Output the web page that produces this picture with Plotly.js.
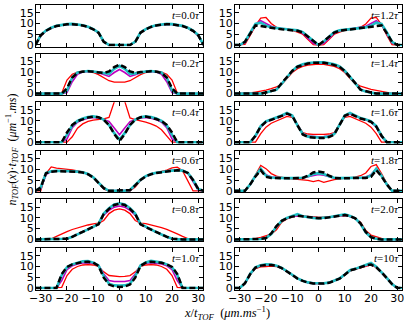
<!DOCTYPE html>
<html>
<head>
<meta charset="utf-8">
<script src="https://cdn.plot.ly/plotly-3.0.1.min.js"></script>
<style>
  html, body { margin: 0; padding: 0; background: #fff; }
  #plot { width: 407px; height: 322px; }
</style>
</head>
<body>
<div id="plot"></div>
<script>
// x / t_TOF grid (um/ms)
const X = [-32,-30,-28,-26,-24,-22,-20,-18,-16,-14,-12,-10,-8,-6,-4,-2,0,2,4,6,8,10,12,14,16,18,20,22,24,26,28,30,32];

const TIMES = ['0.0','0.2','0.4','0.6','0.8','1.0','1.2','1.4','1.6','1.8','2.0','10'];

// t = 0.0 tau
const t00Red   = [0,4.2,6.5,7.8,8.8,9.3,9.6,9.8,9.5,9.1,8.4,7.2,5.5,1.3,0,0,0,0,0,1.3,5.5,7.2,8.4,9.1,9.5,9.8,9.6,9.3,8.8,7.8,6.5,4.2,0];
const t00Mag   = [0,4.3,6.5,7.9,8.8,9.3,9.6,9.7,9.5,9.1,8.4,7.3,5.6,1.4,0,0,0,0,0,1.4,5.6,7.3,8.4,9.1,9.5,9.7,9.6,9.3,8.8,7.9,6.5,4.3,0];
const t00Cyan  = [0,4.6,6.7,8.0,8.9,9.4,9.7,9.8,9.6,9.2,8.5,7.4,5.8,1.6,0,0,0,0,0,1.6,5.8,7.4,8.5,9.2,9.6,9.8,9.7,9.4,8.9,8.0,6.7,4.6,0];
const t00Black = [0,4.5,6.6,7.9,8.8,9.3,9.6,9.7,9.5,9.1,8.4,7.3,5.7,1.5,0,0,0,0,0,1.5,5.7,7.3,8.4,9.1,9.5,9.7,9.6,9.3,8.8,7.9,6.6,4.5,0];

// t = 0.2 tau
const t02Red   = [0,0,0,0,0,0.3,6.3,9,10,10.5,10.4,9.8,8.8,7.5,6,5.3,5.2,5.3,6,7.5,8.8,9.8,10.4,10.5,10,9,6.3,0.3,0,0,0,0,0];
const t02Mag   = [0,0,0,0,0,0,0.5,5.5,9,10,10.3,10.2,9.7,8.8,8,9.8,11.2,9.8,8,8.8,9.7,10.2,10.3,10,9,5.5,0.5,0,0,0,0,0,0];
const t02Cyan  = [0,0,0,0,0,0,1.5,7.5,9.8,10.3,10.5,10.3,10,9.4,9.2,11.5,12.9,11.5,9.2,9.4,10,10.3,10.5,10.3,9.8,7.5,1.5,0,0,0,0,0,0];
const t02Black = [0,0,0,0,0,0,2.5,7.5,9.6,10.2,10.4,10.2,10,9.6,10.3,12.3,13.5,12.3,10.3,9.6,10,10.2,10.4,10.2,9.6,7.5,2.5,0,0,0,0,0,0];

// t = 0.4 tau
const t04Red   = [0,0,0,0,0,0,0,2.5,6.5,8.5,9.7,10.3,10.6,10.8,11.5,19,26,19,11.3,10.5,10,9.3,8.5,7.5,5.8,2.8,0,0,0,0,0,0,0];
const t04Mag   = [0,0,0,0,0,0,1.5,6.8,9.3,10.5,11.2,11.5,11.3,10.6,9.6,6.6,3.5,6.6,9.6,10.6,11.3,11.5,11.2,10.5,9.3,6.8,1.5,0,0,0,0,0,0];
const t04Cyan  = [0,0,0,0,0,0,3.5,7.8,9.9,11,11.7,12,11.6,10.5,8,4.2,1.2,4.2,8,10.5,11.6,12,11.7,11,9.9,7.8,3.5,0,0,0,0,0,0];
const t04Black = [0,0,0,0,0,0,4.5,8,9.8,10.8,11.5,11.9,11.6,10.5,8,3.8,0.6,3.8,8,10.5,11.6,11.9,11.5,10.8,9.8,8,4.5,0,0,0,0,0,0];

// t = 0.6 tau
const t06Red   = [0,0,8,11.1,10.5,10.3,10.1,9.7,9.3,8.8,7.8,6.3,3.8,0.8,0,0,0,0,0,1.8,4.8,6.8,7.8,8.5,9,9.6,10.7,11,9.3,4.5,0,0,0];
const t06Mag   = [0,0.8,7.5,8.9,9.2,9.2,9.1,9.1,8.9,8.5,7.7,6.2,3.6,1.1,0,0,0,0,0.2,2.4,5,6.7,7.7,8.3,8.8,9.1,9.5,9.7,9.5,8.2,4.2,0.3,0];
const t06Cyan  = [0,1.5,8.3,9.1,9.3,9.3,9.2,9.1,8.9,8.6,7.8,6.3,3.8,1.3,0,0,0,0,0.4,2.6,5.1,6.8,7.8,8.4,8.8,9.1,9.4,9.6,9.4,8.4,5.2,0.8,0];
const t06Black = [0,1.5,8.2,8.9,9.1,9.1,9.1,9,8.8,8.5,7.7,6.2,3.6,1.2,0,0,0,0,0.3,2.5,5,6.7,7.7,8.3,8.7,9,9.3,9.5,9.3,8.3,5,0.8,0];

// t = 0.8 tau
const t08Red   = [0,0,0,0.3,1.4,2.6,3.6,4.6,5.4,6.1,6.7,7.2,7.5,8.8,12,13.6,14.2,13.6,12,8.8,7.6,7.3,6.8,6.2,5.5,4.7,3.8,2.6,1.4,0.4,0,0,0];
const t08Mag   = [0,0,0,0,0,0,0.3,1.2,2.3,3.4,4.5,5.7,7,11.3,13.5,15,15.5,15,13.5,11.3,7,5.7,4.5,3.4,2.3,1.2,0.3,0,0,0,0,0,0];
const t08Cyan  = [0,0,0,0,0,0,0.3,1.2,2.3,3.4,4.6,5.8,7.2,12,14.5,16.3,16.8,16.3,14.5,12,7.2,5.8,4.6,3.4,2.3,1.2,0.3,0,0,0,0,0,0];
const t08Black = [0,0,0,0,0,0,0.3,1.2,2.3,3.4,4.5,5.7,7,11.8,14.2,16,16.6,16,14.2,11.8,7,5.7,4.5,3.4,2.3,1.2,0.3,0,0,0,0,0,0];

// t = 1.0 tau
const t10Red   = [0,0,0,0,0,0.3,5.8,8.7,10,10.7,10.9,10.7,10,7.5,5.8,5.4,5.3,5.4,5.8,7.5,10,10.7,10.9,10.7,10,8.7,5.8,0.3,0,0,0,0,0];
const t10Mag   = [0,0,0,0,0,3.5,8.5,10.3,11.2,11.6,11.8,11.5,10.5,6.5,3.5,3,2.9,3,3.5,6.5,10.5,11.5,11.8,11.6,11.2,10.3,8.5,3.5,0,0,0,0,0];
const t10Cyan  = [0,0,0,0,0,6,9.6,11,11.8,12.4,12.5,11.8,10.5,5.5,2,1.2,1.1,1.2,2,5.5,10.5,11.9,12.6,12.3,11.8,11,9.6,6,0,0,0,0,0];
const t10Black = [0,0,0,0,0,6.5,9.8,11,11.7,12.1,12.2,11.8,10.3,4.8,1.6,0.7,0.5,0.7,1.6,4.8,10.3,11.8,12.2,12.1,11.7,11,9.8,6.5,0,0,0,0,0];

// t = 1.2 tau
const t12Red   = [0,0,0.3,4.5,9,12.5,12.8,10,8.2,7.6,7.2,6.8,6,5,2.5,0.2,0,0.2,2.5,5,6,6.8,7.2,7.6,8.2,9.8,12.5,12.8,9.5,4.5,0.2,0,0];
const t12Mag   = [0,0,1,5.5,9.5,11.3,10,8.7,8,7.6,7.3,7,6.6,5.5,3,0.8,0,0.8,3,5.5,6.6,7,7.3,7.6,8,8.7,10,11.3,9.5,5.5,1,0,0];
const t12Cyan  = [0,0,1.5,6,9.8,10.4,9,8.2,7.8,7.5,7.3,7.1,6.8,6,4,1.6,0,1.6,4,6,6.8,7.1,7.3,7.5,7.8,8.2,9,10.4,9.8,6,1.5,0,0];
const t12Black = [0,0,1.5,5.5,9.1,8.8,8.3,7.9,7.6,7.3,7.1,6.9,6.6,5.8,4,1.8,0,1.8,4,5.8,6.6,6.9,7.1,7.3,7.6,7.9,8.3,8.8,9.1,5.5,1.5,0,0];

// t = 1.4 tau
const t14Red   = [0,0,0.1,0.3,0.7,1.1,1.6,2.3,3.1,4.3,7,9.8,11.6,12.7,13.3,13.6,13.7,13.6,13.3,12.7,11.6,9.8,7,4.6,3.5,2.6,2,1.5,1,0.5,0.1,0,0];
const t14Mag   = [0,0,0,0,0,0,0.5,1.1,2,4.8,7.7,10.4,12.4,13.4,14,14.3,14.4,14.3,14,13.4,12.4,10.4,7.7,4.8,2,1.1,0.5,0,0,0,0,0,0];
const t14Cyan  = [0,0,0,0,0,0,0.5,1,1.8,4.6,7.8,10.6,12.6,13.6,14.2,14.5,14.6,14.5,14.2,13.6,12.6,10.6,7.8,4.6,1.8,1,0.5,0,0,0,0,0,0];
const t14Black = [0,0,0,0,0,0,0.5,1,1.8,4.9,7.8,10.5,12.5,13.4,14,14.3,14.4,14.3,14,13.4,12.5,10.5,7.8,4.9,1.8,1,0.5,0,0,0,0,0,0];

// t = 1.6 tau
const t16Red   = [0,0,0,0,0,4,7,8.8,9.8,11,12,11.5,8.3,4.5,3.8,3.6,3.5,3.6,3.8,4.5,8.3,11.5,12,11,9.8,8.8,7,4,0,0,0,0,0];
const t16Mag   = [0,0,0,0,2.5,7,9.4,10.3,11,12.1,13.1,12.2,8,4,2.9,2.6,2.5,2.6,2.9,4,8,12.2,13.1,12.1,11,10.3,9.4,7,2.5,0,0,0,0];
const t16Cyan  = [0,0,0,0,3,7.5,9.7,10.6,11.2,12.4,13.6,12.4,7.8,3.8,2.6,2.3,2.2,2.3,2.6,3.8,7.8,12.4,13.6,12.4,11.2,10.6,9.7,7.5,3,0,0,0,0];
const t16Black = [0,0,0,0,3,7.3,9.5,10.4,11,12.2,13.3,12.3,7.8,3.6,2.4,2,1.9,2,2.4,3.6,7.8,12.3,13.3,12.2,11,10.4,9.5,7.3,3,0,0,0,0];

// t = 1.8 tau
const t18Red   = [0,0,0,3,7.5,11.8,10.3,8,6.8,6.2,5.8,5.5,5.3,5.1,4.8,4.3,4.8,3.9,4.6,5.2,5.5,5.8,6,6.4,7,8.3,11.3,12.2,8,3.5,0,0,0];
const t18Mag   = [0,0,0,2.8,7,10.1,7.5,6.4,6,5.9,5.8,5.8,5.8,6,6.5,7.2,7.6,7.2,6.5,6,5.8,5.8,5.8,5.9,6,6.4,7.5,10.1,7,2.8,0,0,0];
const t18Cyan  = [0,0,0,3,7,10.3,7,6.2,6,5.9,5.9,5.9,5.9,6.1,6.8,7.8,8.2,7.8,6.8,6.1,5.9,5.9,5.9,5.9,6,6.2,7,10.3,7,3,0,0,0];
const t18Black = [0,0,0,3,6.7,9.6,6.5,6,5.8,5.8,5.8,5.8,5.8,6,7,8.5,9,8.5,7,6,5.8,5.8,5.8,5.8,5.8,6,6.5,9.6,6.7,3,0,0,0];

// t = 2.0 tau
const t20Red   = [0,0,0,0,0.3,0.9,1.5,2.4,4.5,8,9.5,10.5,11,10.8,10.4,10.3,10.3,10.4,10.6,10.8,11,11.1,10.6,9.5,8,4.2,2,1.2,0.5,0.2,0,0,0];
const t20Mag   = [0,0,0,0,0,0.2,0.6,2.6,6,8.5,9.8,10.6,11,10.7,10.3,10,9.9,10,10.3,10.7,11,11.2,10.7,9.7,7.2,3.2,1,0.3,0,0,0,0,0];
const t20Cyan  = [0,0,0,0,0,0.2,0.6,2.5,6,8.6,10,11,11.7,10.8,10.3,10,9.9,10,10.3,10.8,11.2,11.6,10.9,9.8,7.3,3.3,1,0.3,0,0,0,0,0];
const t20Black = [0,0,0,0,0,0.2,0.6,2.8,6.2,8.6,9.8,10.6,11,10.7,10.2,9.9,9.8,9.9,10.2,10.7,11.1,11.3,10.8,9.8,7.5,3.5,1,0.3,0,0,0,0,0];

// t = 10 tau
const t100Red   = [0,0,2,6.3,9,9.8,10,10.2,10,9.1,7.6,6,4.4,3.3,2.5,2.1,2,2.1,2.4,3.2,4.3,6,8,8.7,9.5,10.3,10.8,9.5,7.5,4.8,2,0,0];
const t100Mag   = [0,0,2.1,6.4,9.4,10.4,10.7,10.7,10.3,9.2,7.7,6,4.4,3.3,2.5,2.1,2,2.1,2.4,3.2,4.3,6.2,8.1,8.8,9.6,10.6,11.2,9.7,7.3,4.6,1.8,0,0];
const t100Cyan  = [0,0,2.2,6.6,9.6,10.6,11,10.9,10.4,9.3,7.8,6.1,4.5,3.4,2.6,2.2,2.1,2.2,2.5,3.3,4.4,6.3,8.3,8.9,9.8,10.9,11.6,9.9,7.4,4.7,1.8,0,0];
const t100Black = [0,0,2.2,6.5,9.5,10.4,10.7,10.7,10.3,9.2,7.7,6,4.4,3.3,2.5,2.1,2,2.1,2.4,3.2,4.3,6.2,8.2,8.8,9.6,10.5,10.9,9.6,7.3,4.6,1.8,0,0];

const RED   = [t00Red, t02Red, t04Red, t06Red, t08Red, t10Red, t12Red, t14Red, t16Red, t18Red, t20Red, t100Red];
const MAG   = [t00Mag, t02Mag, t04Mag, t06Mag, t08Mag, t10Mag, t12Mag, t14Mag, t16Mag, t18Mag, t20Mag, t100Mag];
const CYAN  = [t00Cyan, t02Cyan, t04Cyan, t06Cyan, t08Cyan, t10Cyan, t12Cyan, t14Cyan, t16Cyan, t18Cyan, t20Cyan, t100Cyan];
const BLACK = [t00Black, t02Black, t04Black, t06Black, t08Black, t10Black, t12Black, t14Black, t16Black, t18Black, t20Black, t100Black];

const W = 407, H = 322;
const colPx = [[36, 203], [235, 402]];
const rowTop = 5, rowPitch = 48.6, rowH = 41.5;

const tickFont = { family: "DejaVu Sans", size: 11, color: "#000" };
const labelFont = { family: "Liberation Serif", size: 12.5, color: "#000" };

let traces = [];
let layout = {
  width: W,
  height: H,
  margin: { l: 0, r: 0, t: 0, b: 0 },
  paper_bgcolor: "#fff",
  plot_bgcolor: "#fff",
  showlegend: false,
  annotations: [],
};

let axisBase = {
  ticks: "inside",
  ticklen: 4,
  tickwidth: 1,
  tickcolor: "#000",
  showline: true,
  linecolor: "#000",
  linewidth: 1,
  mirror: "ticks",
  showgrid: false,
  zeroline: false,
  fixedrange: true,
  tickfont: tickFont,
};

TIMES.forEach((tLabel, i) => {
  let sfx = i === 0 ? "" : String(i + 1);
  let col = i < 6 ? 0 : 1;
  let row = i % 6;
  let top = rowTop + row * rowPitch;
  let bottom = top + rowH;

  layout["xaxis" + sfx] = {
    ...axisBase,
    domain: [colPx[col][0] / W, colPx[col][1] / W],
    anchor: "y" + sfx,
    range: [-31.8, 31.8],
    tickvals: [-30, -20, -10, 0, 10, 20, 30],
    showticklabels: row === 5,
    ticklabelstandoff: -2,
  };
  layout["yaxis" + sfx] = {
    ...axisBase,
    domain: [1 - bottom / H, 1 - top / H],
    anchor: "x" + sfx,
    range: [-0.7, 18.6],
    tickvals: [0, 5, 10, 15],
    ticklabelstandoff: -1,
  };

  let common = { x: X, xaxis: "x" + sfx, yaxis: "y" + sfx, mode: "lines", hoverinfo: "skip" };
  traces.push({ ...common, y: RED[i], line: { color: "#ff0000", width: 1.3 } });
  traces.push({ ...common, y: MAG[i], line: { color: "#bf00bf", width: 1.6 } });
  traces.push({ ...common, y: CYAN[i], line: { color: "#1fbfc4", width: 2.6 } });
  traces.push({ ...common, y: BLACK[i], line: { color: "#000", width: 2.5, dash: "6px,3px" } });

  layout.annotations.push({
    xref: "x" + sfx + " domain",
    yref: "y" + sfx + " domain",
    x: 0.995,
    y: 0.96,
    xanchor: "right",
    yanchor: "top",
    showarrow: false,
    text: "<i>t</i>=" + tLabel + "<i>τ</i>",
    font: { family: "Liberation Serif", size: 11, color: "#000" },
  });
});

// y axis title (shared)
layout.annotations.push({
  xref: "paper", yref: "paper",
  x: 1 / W, y: 1 - 150 / H,
  xanchor: "left",
  textangle: -90,
  showarrow: false,
  text: "<i>n</i><sub><i>TOF</i></sub>(<i>x</i>)·<i>t</i><sub><i>TOF</i></sub>  (<i>μm</i><sup>−1</sup>.<i>ms</i>)",
  font: { family: "Liberation Serif", size: 12, color: "#000" },
});

// x axis title (shared)
layout.annotations.push({
  xref: "paper", yref: "paper",
  x: 227 / W, y: 1 - 302 / H,
  yanchor: "top",
  showarrow: false,
  text: "<i>x</i>/<i>t</i><sub><i>TOF</i></sub>  (<i>μm.ms</i><sup>−1</sup>)",
  font: labelFont,
});

Plotly.newPlot("plot", traces, layout, { staticPlot: true, displayModeBar: false });
</script>
</body>
</html>
